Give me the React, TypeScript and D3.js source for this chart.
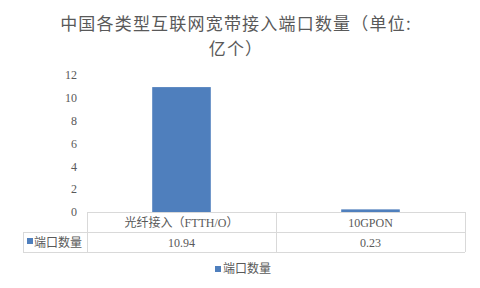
import React from "react";
import * as d3 from "d3";

const categories = ["光纤接入（FTTH/O）", "10GPON"];
const values = [10.94, 0.23];
const seriesName = "端口数量";
const yTicks = [0, 2, 4, 6, 8, 10, 12];
const titleLines = ["中国各类型互联网宽带接入端口数量（单位:", "亿个）"];

export default function App() {
  const W = 480, H = 288;
  const left = 87, right = 465, top = 75, bottom = 212;
  const tableLeft = 23, row1 = 232, row2 = 252;
  const x = d3.scaleBand<string>().domain(categories).range([left, right]).paddingInner(0).paddingOuter(0);
  const y = d3.scaleLinear().domain([0, 12]).range([bottom, top]);
  const barW = x.bandwidth() * 0.31;
  const blue = "#4f7fbd";
  const grid = "#d9d9d9";
  const txt = "#595959";
  const cjk = "'Noto Sans CJK SC', sans-serif";
  const serif = "'Liberation Serif', 'Times New Roman', serif";
  return (
    <svg width={W} height={H} style={{ position: "absolute", left: 0, top: 0, background: "#fff" }}>
      <rect width={W} height={H} fill="#fff" />
      {titleLines.map((t, i) => (
        <text key={i} x={236} y={30 + i * 25} textAnchor="middle" fontFamily={cjk} fontSize={17} fill={txt} letterSpacing={1.2}>{t}</text>
      ))}
      {yTicks.map((t) => (
        <text key={t} x={77} y={y(t)} dy="0.35em" textAnchor="end" fontFamily={serif} fontSize={12} fill={txt}>{t}</text>
      ))}
      {categories.map((c, i) => (
        <rect key={c} x={(x(c) as number) + (x.bandwidth() - barW) / 2} y={y(values[i])} width={barW} height={y(0) - y(values[i])} fill={blue} />
      ))}
      {/* table */}
      <g stroke={grid} strokeWidth={1} fill="none">
        <line x1={left} x2={right} y1={bottom + 0.5} y2={bottom + 0.5} />
        <line x1={tableLeft} x2={right} y1={row1 + 0.5} y2={row1 + 0.5} />
        <line x1={tableLeft} x2={right} y1={row2 + 0.5} y2={row2 + 0.5} />
        <line x1={tableLeft + 0.5} x2={tableLeft + 0.5} y1={row1} y2={row2} />
        {categories.map((c) => (
          <line key={c} x1={(x(c) as number) + 0.5} x2={(x(c) as number) + 0.5} y1={bottom} y2={row2} />
        ))}
        <line x1={right + 0.5} x2={right + 0.5} y1={bottom} y2={row2} />
      </g>
      {categories.map((c, i) => (
        <g key={c}>
          <text x={(x(c) as number) + x.bandwidth() / 2} y={(bottom + row1) / 2 + 1} dy="0.35em" textAnchor="middle" fontFamily={i === 0 ? cjk : serif} fontSize={12} fill={txt}>
            {i === 0 ? (
              <>
                <tspan fontFamily={cjk}>光纤接入（</tspan>
                <tspan fontFamily={serif}>FTTH/O</tspan>
                <tspan fontFamily={cjk}>）</tspan>
              </>
            ) : c}
          </text>
          <text x={(x(c) as number) + x.bandwidth() / 2} y={(row1 + row2) / 2 + 1} dy="0.35em" textAnchor="middle" fontFamily={serif} fontSize={12} fill={txt}>{values[i]}</text>
        </g>
      ))}
      <rect x={27} y={238} width={6} height={6} fill={blue} />
      <text x={34} y={(row1 + row2) / 2 + 1} dy="0.35em" fontFamily={cjk} fontSize={12} fill={txt}>{seriesName}</text>
      {/* legend */}
      <rect x={215} y={266} width={6} height={6} fill={blue} />
      <text x={223} y={269} dy="0.35em" fontFamily={cjk} fontSize={12} fill={txt}>{seriesName}</text>
    </svg>
  );
}
